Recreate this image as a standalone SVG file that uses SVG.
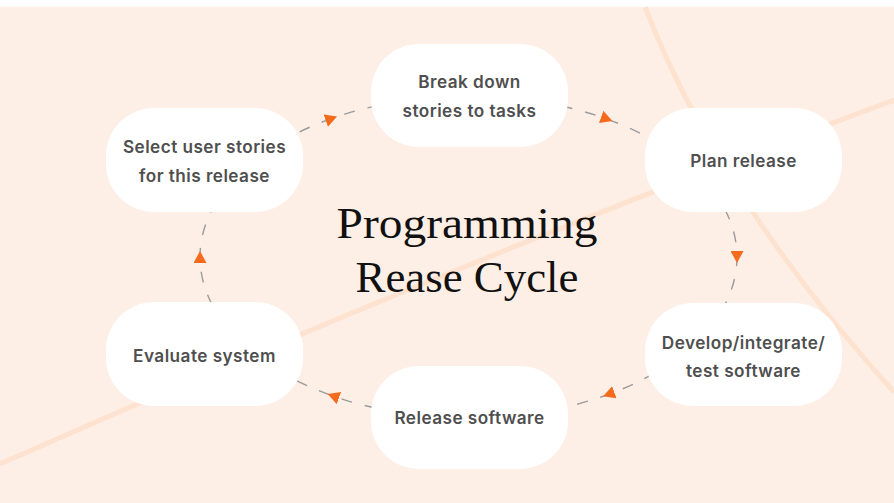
<svg xmlns="http://www.w3.org/2000/svg" width="894" height="503" viewBox="0 0 894 503">
  <style>
    .bgline { fill: none; stroke: #fde2cf; stroke-width: 5; }
    .node rect { fill: #ffffff; }
    .node text { font-family: "Inter", "Open Sans", "Liberation Sans", sans-serif; font-weight: 600; font-size: 17.2px; letter-spacing: 0.45px; fill: #4f4f4f; text-anchor: middle; }
    .title { font-family: "Liberation Serif", "DejaVu Serif", serif; font-size: 45px; fill: #111111; text-anchor: middle; }
    .conn { fill: none; stroke: #9b9b9b; stroke-width: 1.4; stroke-dasharray: 11 13; marker-mid: url(#arrow); }
  </style>
  <defs>
    <marker id="arrow" viewBox="0 0 12 13" refX="6" refY="6.5" markerWidth="12" markerHeight="13" markerUnits="userSpaceOnUse" orient="auto">
      <path d="M0,0 L12,6.5 L0,13 Z" fill="#f46b1e"/>
    </marker>
  </defs>

  <rect x="0" y="0" width="894" height="503" fill="#ffffff"/>
  <rect x="0" y="7" width="894" height="496" fill="#fdefe6"/>
  <path class="bgline" d="M0,464 Q447,266 894,100"/>
  <path class="bgline" d="M645,7 Q720,200 894,392"/>

  <g id="connectors">
    <path class="conn" d="M278.6,143.2 A268.5,161 0 0 1 331.4,118.6 A268.5,161 0 0 1 399.0,101.5"/>
    <path class="conn" d="M538.0,101.5 A268.5,161 0 0 1 606.8,119.0 A268.5,161 0 0 1 674.2,153.5"/>
    <path class="conn" d="M711.8,189.0 A268.5,161 0 0 1 737.0,257.0 A268.5,161 0 0 1 711.8,325.0"/>
    <path class="conn" d="M674.2,360.5 A268.5,161 0 0 1 608.7,394.3 A268.5,161 0 0 1 538.0,412.5"/>
    <path class="conn" d="M399.0,412.5 A268.5,161 0 0 1 333.3,396.1 A268.5,161 0 0 1 278.6,370.8"/>
    <path class="conn" d="M225.2,325.0 A268.5,161 0 0 1 200.0,257.0 A268.5,161 0 0 1 225.2,189.0"/>
  </g>

  <g id="title">
    <text class="title" x="467" y="238" textLength="261" lengthAdjust="spacingAndGlyphs">Programming</text>
    <text class="title" x="467" y="292" textLength="223" lengthAdjust="spacingAndGlyphs">Rease Cycle</text>
  </g>

  <g id="node-break-down" class="node">
    <rect x="371" y="44" width="197" height="103" rx="48" ry="48"/>
    <text x="469.5" y="88">Break down</text>
    <text x="469.5" y="117">stories to tasks</text>
  </g>
  <g id="node-plan-release" class="node">
    <rect x="645" y="108" width="197" height="104" rx="48" ry="48"/>
    <text x="743.5" y="167">Plan release</text>
  </g>
  <g id="node-develop" class="node">
    <rect x="645" y="303" width="197" height="103" rx="48" ry="48"/>
    <text x="743.5" y="349">Develop/integrate/</text>
    <text x="743.5" y="377">test software</text>
  </g>
  <g id="node-release-software" class="node">
    <rect x="371" y="366" width="197" height="103" rx="48" ry="48"/>
    <text x="469.5" y="424">Release software</text>
  </g>
  <g id="node-evaluate" class="node">
    <rect x="106" y="302" width="197" height="104" rx="48" ry="48"/>
    <text x="204.5" y="362">Evaluate system</text>
  </g>
  <g id="node-select" class="node">
    <rect x="106" y="108" width="197" height="104" rx="48" ry="48"/>
    <text x="204.5" y="153">Select user stories</text>
    <text x="204.5" y="182">for this release</text>
  </g>
</svg>
